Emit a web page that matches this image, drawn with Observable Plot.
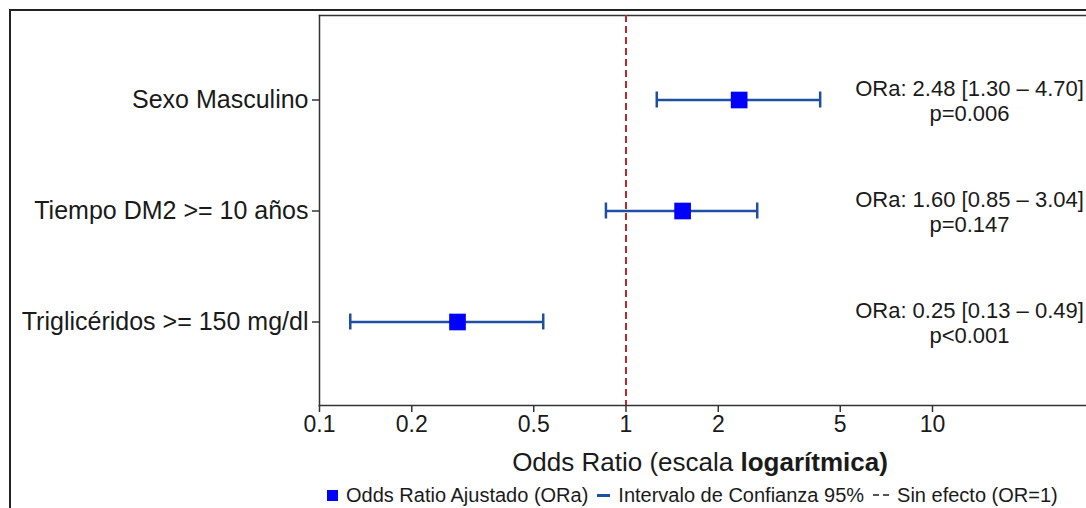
<!DOCTYPE html>
<html>
<head>
<meta charset="utf-8">
<script src="https://cdn.jsdelivr.net/npm/d3@7"></script>
<script src="https://cdn.jsdelivr.net/npm/@observablehq/plot@0.6"></script>
<style>
  html, body { margin: 0; padding: 0; background: #fff; overflow: hidden; }
  body { width: 1086px; height: 508px; position: relative; font-family: "Liberation Sans", Arial, sans-serif; color: #1a1a1a; }
  #chart { position: absolute; left: 0; top: 0; }
  #outer { position: absolute; left: 9px; top: 9px; width: 1200px; height: 600px; border: 2px solid #222; box-sizing: border-box; pointer-events: none; }
  #xtitle { position: absolute; left: 0; width: 1400px; top: 447px; text-align: center; font-size: 26px; line-height: 30px; white-space: nowrap; }
  #legend { position: absolute; left: 327px; top: 484px; font-size: 20px; line-height: 22px; white-space: nowrap; display: flex; align-items: center; }
  .sw { display: inline-block; }
</style>
</head>
<body>
<div id="chart"></div>
<div id="xtitle">Odds Ratio (escala <b>logarítmica)</b></div>
<div id="legend">
  <span class="sw" style="width:11px;height:11px;background:#0000ff;margin-right:8px"></span><span>Odds Ratio Ajustado (ORa)</span>
  <span class="sw" style="width:13px;height:3px;background:#1f4fa0;margin:0 8px 0 9px"></span><span>Intervalo de Confianza 95%</span>
  <span class="sw" style="width:16px;height:0;border-top:2px dashed #555;margin:0 8px 0 9px"></span><span>Sin efecto (OR=1)</span>
</div>
<div id="outer"></div>
<script>
// ---- data ----
const categories = ["Sexo Masculino", "Tiempo DM2 >= 10 años", "Triglicéridos >= 150 mg/dl"];
const orValues = [2.34, 1.53, 0.282];      // plotted point estimates
const ciLower  = [1.26, 0.86, 0.126];
const ciUpper  = [4.30, 2.68, 0.537];
const orText   = ["ORa: 2.48 [1.30 – 4.70]", "ORa: 1.60 [0.85 – 3.04]", "ORa: 0.25 [0.13 – 0.49]"];
const pText    = ["p=0.006", "p=0.147", "p<0.001"];
const xTicks   = [0.1, 0.2, 0.5, 1, 2, 5, 10];
const xTickLabels = ["0.1", "0.2", "0.5", "1", "2", "5", "10"];
const noEffect = [1];

const rows = categories.map((c, i) => ({
  cat: c, or: orValues[i], lo: ciLower[i], hi: ciUpper[i],
  label: orText[i] + "\n" + pText[i]
}));
const tickRows = xTicks.map((v, i) => ({ v, t: xTickLabels[i] }));

const FONT = '"Liberation Sans", Arial, sans-serif';
const ciColor = "#1f4fa0";
const capInset = 47.5;
const panelH = 390;

const chart = Plot.plot({
  width: 1086,
  height: 450,
  marginLeft: 319,
  marginRight: 0,
  marginTop: 15,
  marginBottom: 45,
  style: { fontFamily: FONT, color: "#1a1a1a", background: "white" },
  x: { type: "log", domain: [0.1, 31.8], label: null, axis: null },
  y: { type: "band", domain: categories, paddingInner: 0, paddingOuter: 0.25, label: null },
  marks: [
    Plot.frame({ anchor: "top", stroke: "#333", strokeWidth: 1.5 }),
    Plot.frame({ anchor: "left", stroke: "#333", strokeWidth: 1.5 }),
    Plot.frame({ anchor: "bottom", stroke: "#333", strokeWidth: 1.5 }),
    // x ticks and labels
    Plot.ruleX(tickRows, { x: "v", insetTop: panelH, insetBottom: -7, stroke: "#333", strokeWidth: 1.5 }),
    Plot.text(tickRows, { x: "v", text: "t", frameAnchor: "bottom", dy: 26, fontSize: 23, fill: "#1a1a1a" }),
    Plot.ruleX(noEffect, { stroke: "#c0262d", strokeWidth: 2, strokeDasharray: "7,4" }),
    Plot.link(rows, { x1: "lo", x2: "hi", y1: "cat", y2: "cat", stroke: ciColor, strokeWidth: 2.5 }),
    Plot.tickX(rows, { x: "lo", y: "cat", stroke: ciColor, strokeWidth: 2.5, insetTop: capInset, insetBottom: capInset }),
    Plot.tickX(rows, { x: "hi", y: "cat", stroke: ciColor, strokeWidth: 2.5, insetTop: capInset, insetBottom: capInset }),
    Plot.dot(rows, { x: "or", y: "cat", symbol: "square", r: 9.4, fill: "#0000ff", stroke: "none" }),
    Plot.text(rows, { y: "cat", text: "label", frameAnchor: "right", dx: -117, textAnchor: "middle", fontSize: 22, lineHeight: 1.14, fill: "#1a1a1a" }),
    Plot.axisY({ tickSize: 7, tickPadding: 4, fontSize: 25, stroke: "#333", strokeWidth: 1.5, label: null })
  ]
});
document.getElementById("chart").appendChild(chart);
</script>
</body>
</html>
